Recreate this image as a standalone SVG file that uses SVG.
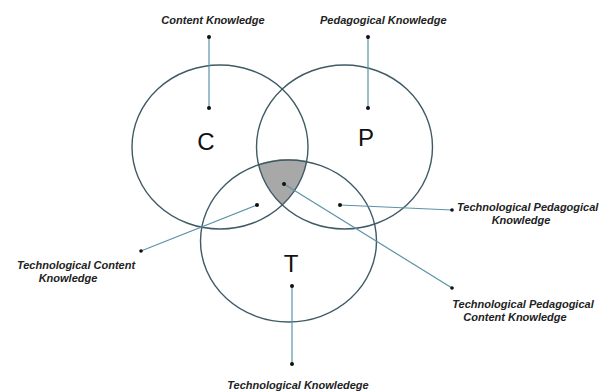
<svg xmlns="http://www.w3.org/2000/svg" width="604" height="391" viewBox="0 0 604 391">
<style>
.ring{fill:none;stroke:#3f5b66;stroke-width:1.4}
.big{font-family:"Liberation Sans",Arial,sans-serif;font-size:24px;fill:#111;text-anchor:middle}
.lbl{font-family:"Liberation Sans",Arial,sans-serif;font-size:11px;font-weight:bold;font-style:italic;fill:#222}
.con{stroke:#5a92a8;stroke-width:1.2;fill:none}
.dot{fill:#111}
</style>
<rect width="604" height="391" fill="#fff"/>
<g id="shade">
<path d="M258.4,163.9 A88,82 0 0 1 306.75,160.76 A88,82 0 0 1 282.25,204.96 A88,82 0 0 1 258.4,163.9 Z" fill="#a8a8a8" stroke="none"/>
</g>
<g id="node-C">
<ellipse class="ring" cx="220" cy="147" rx="88" ry="82"/>
<text class="big" x="206" y="150">C</text>
</g>
<g id="node-P">
<ellipse class="ring" cx="344.5" cy="147" rx="88" ry="82"/>
<text class="big" x="366" y="146">P</text>
</g>
<g id="node-T">
<ellipse class="ring" cx="288.5" cy="241" rx="88" ry="81"/>
<text class="big" x="291" y="272">T</text>
</g>
<g id="connectors">
<line class="con" x1="209" y1="37" x2="209" y2="108"/>
<line class="con" x1="368" y1="37" x2="368" y2="108"/>
<line class="con" x1="257" y1="205" x2="141" y2="251"/>
<line class="con" x1="340" y1="205" x2="452" y2="210"/>
<line class="con" x1="284" y1="184" x2="452" y2="288"/>
<line class="con" x1="292" y1="286" x2="292" y2="364"/>
<g class="dot">
<circle cx="209" cy="37" r="2"/><circle cx="209" cy="108" r="2"/>
<circle cx="368" cy="37" r="2"/><circle cx="368" cy="108" r="2"/>
<circle cx="257" cy="205" r="2"/><circle cx="141" cy="251" r="1.8"/>
<circle cx="340" cy="205" r="2"/><circle cx="452" cy="210" r="1.8"/>
<circle cx="284" cy="184" r="2"/><circle cx="452" cy="288" r="1.8"/>
<circle cx="292" cy="286" r="2"/><circle cx="292" cy="364" r="2"/>
</g>
</g>
<g id="label-CK"><text class="lbl" x="213" y="24" text-anchor="middle">Content Knowledge</text></g>
<g id="label-PK"><text class="lbl" x="320" y="24">Pedagogical Knowledge</text></g>
<g id="label-TCK">
<text class="lbl" x="76" y="269" text-anchor="middle">Technological Content</text>
<text class="lbl" x="68" y="282" text-anchor="middle">Knowledge</text>
</g>
<g id="label-TPK">
<text class="lbl" x="457" y="211">Technological Pedagogical</text>
<text class="lbl" x="521" y="224" text-anchor="middle">Knowledge</text>
</g>
<g id="label-TPCK">
<text class="lbl" x="523" y="308" text-anchor="middle">Technological Pedagogical</text>
<text class="lbl" x="515" y="321" text-anchor="middle">Content Knowledge</text>
</g>
<g id="label-TK"><text class="lbl" x="298" y="389" text-anchor="middle">Technological Knowledege</text></g>
</svg>
